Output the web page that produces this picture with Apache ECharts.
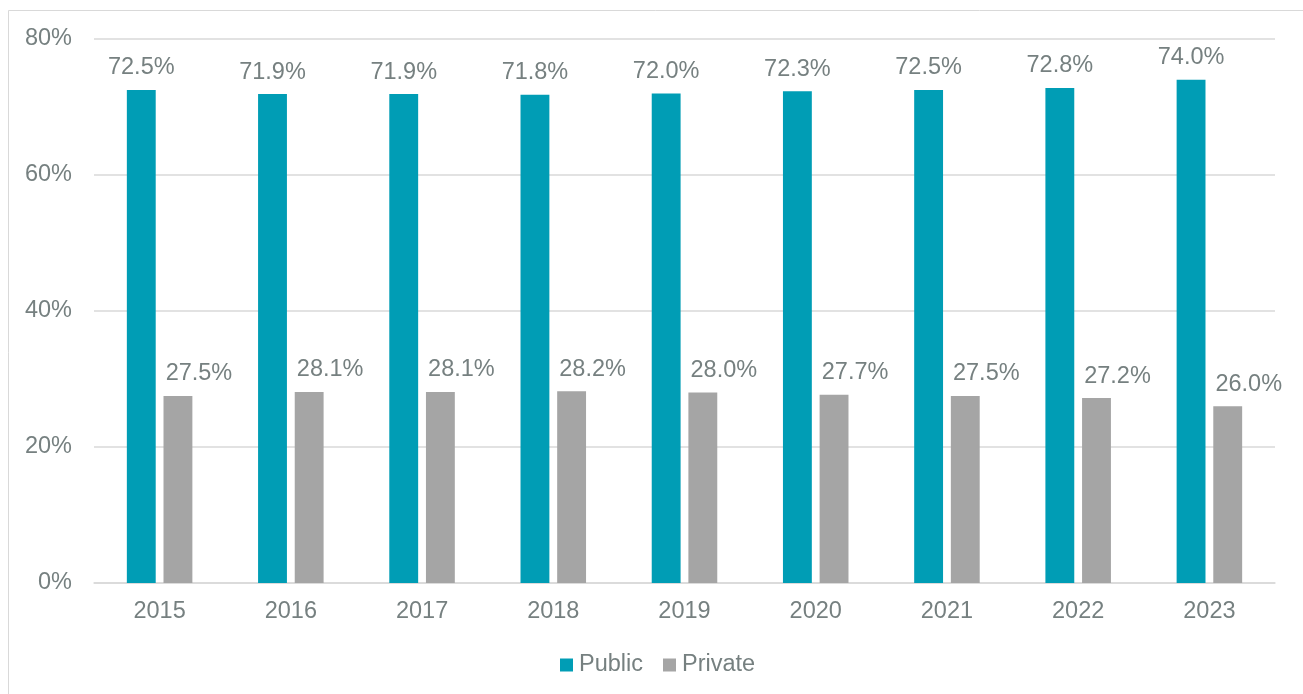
<!DOCTYPE html>
<html>
<head>
<meta charset="utf-8">
<script src="https://cdn.jsdelivr.net/npm/echarts@6/dist/echarts.min.js"></script>
<style>
html,body{margin:0;padding:0;background:#fff;}
#c{width:1303px;height:694px;}
</style>
</head>
<body>
<div id="c"></div>
<script>
const categories = ['2015','2016','2017','2018','2019','2020','2021','2022','2023'];
const publicValues = [72.5, 71.9, 71.9, 71.8, 72.0, 72.3, 72.5, 72.8, 74.0];
const privateValues = [27.5, 28.1, 28.1, 28.2, 28.0, 27.7, 27.5, 27.2, 26.0];
const yTicks = {min: 0, max: 80, interval: 20};

const FONT = 'Arial, "Liberation Sans", sans-serif';
const TXT = '#768080';
const FS = 23.5;

const chart = echarts.init(document.getElementById('c'), null, {renderer: 'canvas'});
chart.setOption({
  animation: false,
  backgroundColor: '#fff',
  textStyle: {fontFamily: FONT},
  graphic: [
    {type: 'line', shape: {x1: 8.5, y1: 10.5, x2: 1303, y2: 10.5}, style: {stroke: '#D9D9D9', lineWidth: 1}, silent: true},
    {type: 'line', shape: {x1: 8.5, y1: 10.5, x2: 8.5, y2: 694}, style: {stroke: '#D9D9D9', lineWidth: 1}, silent: true}
  ],
  grid: {left: 94, right: 28, top: 39, bottom: 111, containLabel: false},
  legend: {
    data: ['Public', 'Private'],
    left: 555, top: 648,
    itemWidth: 13, itemHeight: 13, itemGap: 20,
    icon: 'rect',
    textStyle: {fontSize: FS, color: TXT, fontFamily: FONT, padding: [0, 0, 0, 1]}
  },
  xAxis: {
    type: 'category',
    data: categories,
    axisLine: {show: true, lineStyle: {color: '#D9D9D9', width: 1.5}},
    axisTick: {show: false},
    axisLabel: {fontSize: FS, color: TXT, margin: 17, fontFamily: FONT}
  },
  yAxis: {
    type: 'value',
    min: yTicks.min, max: yTicks.max, interval: yTicks.interval,
    axisLine: {show: false},
    axisTick: {show: false},
    splitLine: {lineStyle: {color: '#D9D9D9', width: 1.5}},
    axisLabel: {formatter: '{value}%', fontSize: FS, color: TXT, margin: 22, fontFamily: FONT}
  },
  series: [
    {
      name: 'Public', type: 'bar', data: publicValues,
      barWidth: '22%', barGap: '27%',
      itemStyle: {color: '#009DB5'},
      label: {show: true, position: 'top', distance: 10, fontSize: FS, color: TXT, fontFamily: FONT,
        formatter: p => p.value.toFixed(1) + '%'}
    },
    {
      name: 'Private', type: 'bar', data: privateValues,
      barWidth: '22%', barGap: '27%',
      itemStyle: {color: '#A5A5A5'},
      label: {show: true, position: 'top', distance: 10, offset: [21, 0], fontSize: FS, color: TXT, fontFamily: FONT,
        formatter: p => p.value.toFixed(1) + '%'}
    }
  ]
});
</script>
</body>
</html>
